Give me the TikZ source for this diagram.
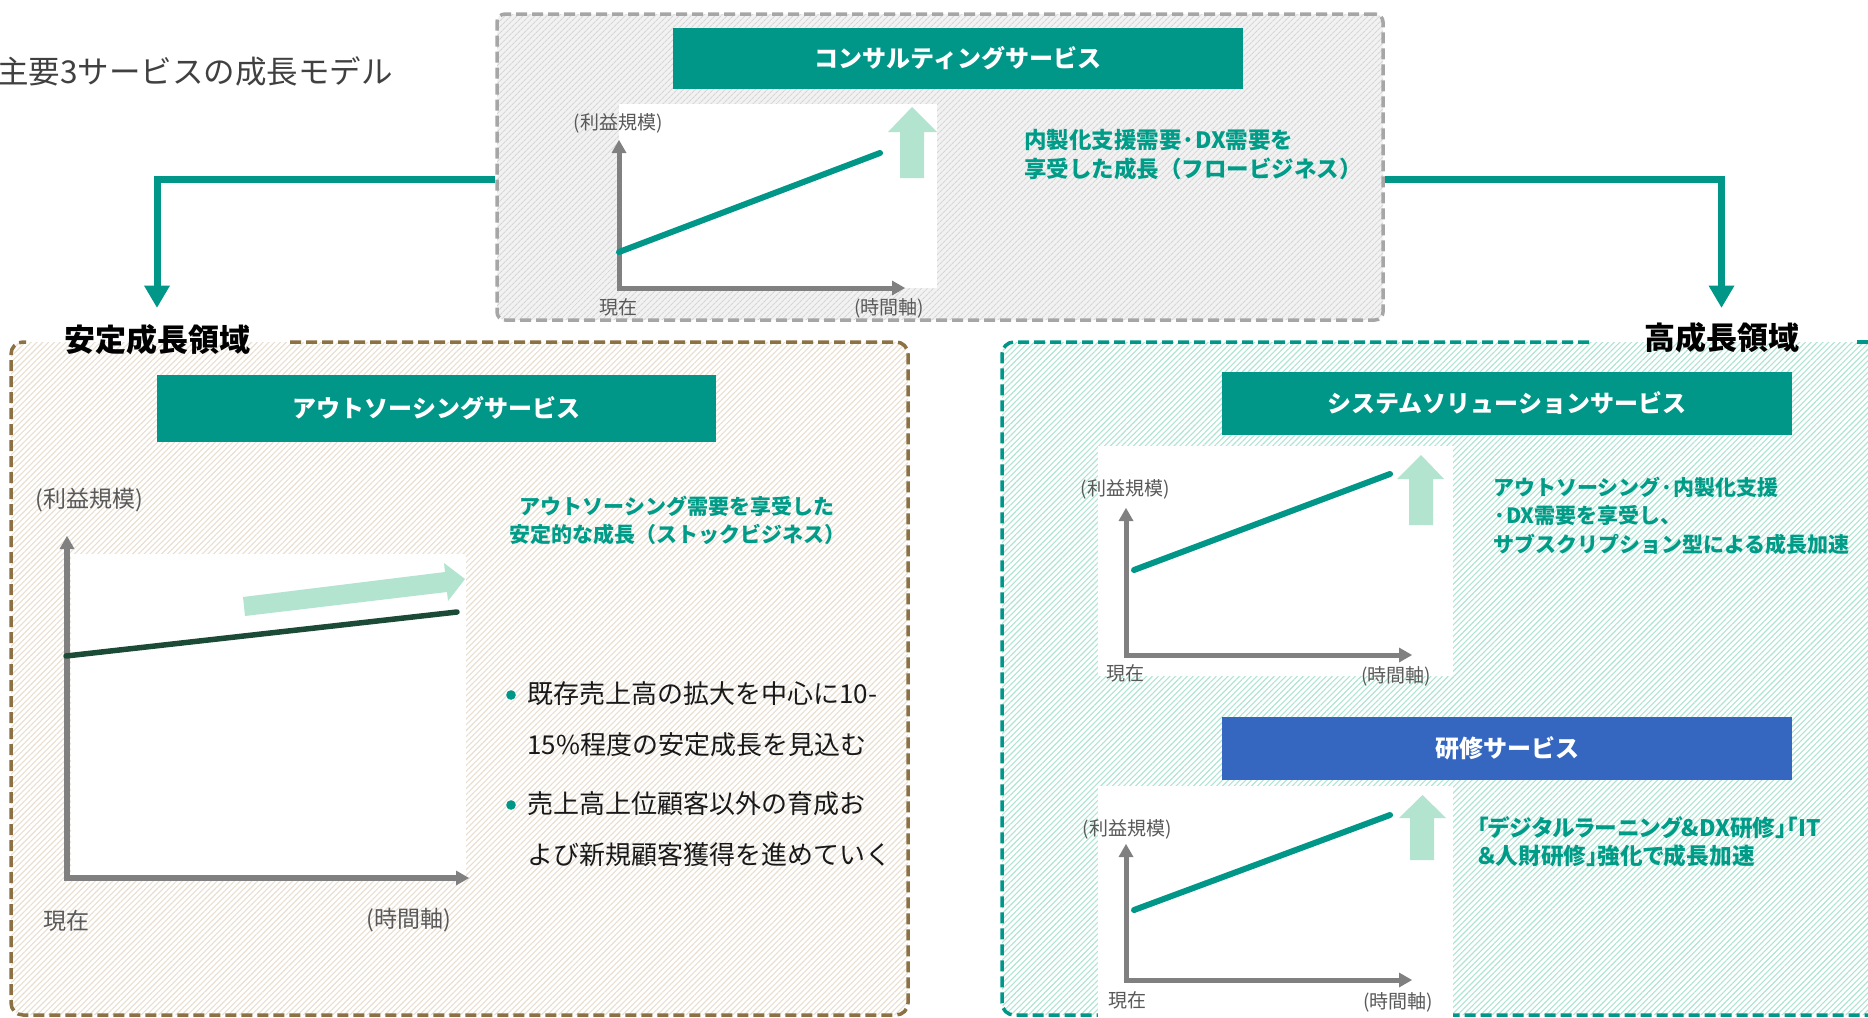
\documentclass[tikz,border=0pt]{standalone}
\usepackage{fontspec}
\setmainfont{Noto Sans CJK JP}
\newfontfamily\paltfont{Noto Sans CJK JP}[RawFeature=+palt]
\usetikzlibrary{arrows.meta,patterns.meta,calc}
\definecolor{tealc}{HTML}{009688}
\definecolor{desct}{HTML}{009C88}
\definecolor{lightg}{HTML}{B2E4D0}
\definecolor{bluec}{HTML}{3567C1}
\definecolor{darkline}{HTML}{1B4A37}
\definecolor{axisg}{HTML}{808080}
\definecolor{labg}{HTML}{595959}
\definecolor{brownb}{HTML}{8B7143}
\definecolor{beigeh}{HTML}{E8DFD0}
\definecolor{tealh}{HTML}{AEE4D2}
\definecolor{grayb}{HTML}{A6A6A6}
\definecolor{graybg}{HTML}{F2F2F2}
\definecolor{grayh}{HTML}{D6D6D6}
\definecolor{titleg}{HTML}{404040}
\newcommand\fsz[2]{\fontsize{#1}{#2}\selectfont}
\begin{document}
\begin{tikzpicture}[x=1pt,y=-1pt,
  consbox/.style={draw=grayb, line width=3.5pt, dash pattern=on 11pt off 5pt,
    rounded corners=8pt, minimum width=886pt, minimum height=306pt, inner sep=0pt,
    preaction={fill=graybg},
    preaction={pattern={Lines[angle=45,distance=4pt,line width=1.1pt]}, pattern color=grayh}},
  titlebar/.style={fill=tealc, text=white, font=\bfseries\fsz{24}{28}, minimum width=570pt, minimum height=61pt, inner sep=0pt},
  regionlabel/.style={text=black, font=\bfseries\fsz{31}{34}, inner sep=0pt},
  axis/.style={draw=axisg, line width=5pt, line join=miter,
    {Triangle[width=15pt,length=13pt,line width=0pt]}-{Triangle[width=15pt,length=13pt,line width=0pt]}},
  growth/.style={draw=tealc, line width=6pt, line cap=round},
  axlab/.style={text=labg, font=\fsz{19}{22}, inner sep=0pt},
  axlabbig/.style={text=labg, font=\fsz{23}{26}, inner sep=0pt},
  desc/.style={text=desct, font=\bfseries\fsz{21}{28.5}, align=left, inner sep=0pt, anchor=north west},
  bullettext/.style={text=black!90, font=\fsz{26}{51}, align=left, inner sep=0pt, anchor=north west},
  conn/.style={draw=tealc, line width=7pt, -{Triangle[width=26pt,length=22pt,line width=0pt]}},
  hatchline/.style={pattern={Lines[angle=45,distance=4.1pt,line width=1.1pt]}}
]
\useasboundingbox (0,0) rectangle (1868,1017);
\fill[white] (0,0) rectangle (1868,1017);

% ---------- main title ----------
\node[anchor=east, text=titleg, font=\fsz{31.5}{34}, inner sep=0pt] (maintitle) at (393,71) {主要3サービスの成長モデル};

% ---------- left region (stable growth) ----------
\fill[hatchline, pattern color=beigeh, rounded corners=12pt] (11,342) rectangle (908,1015);
\draw[draw=brownb, line width=3.5pt, dash pattern=on 11pt off 5pt, rounded corners=12pt]
  (290,342) -- (908,342) -- (908,1015) -- (11,1015) -- (11,342) -- (26,342);
\node[regionlabel] (stable) at (157,340) {安定成長領域};

% ---------- right region (high growth) ----------
\fill[hatchline, pattern color=tealh, rounded corners=12pt] (1002,342) rectangle (1890,1015);
\draw[draw=tealc, line width=3.5pt, dash pattern=on 11pt off 5pt, rounded corners=12pt]
  (1589,342) -- (1002,342) -- (1002,1015) -- (1890,1015);
\draw[draw=tealc, line width=3.5pt, dash pattern=on 11pt off 5pt] (1857,342) -- (1890,342);
\node[regionlabel] (high) at (1721.5,338) {高成長領域};

% ---------- consulting box ----------
\node[consbox] (cons) at (940,167) {};
\node[titlebar] (constitle) at (958,58.5) {コンサルティングサービス};
\fill[white] (619,104) rectangle (937,288);
\draw[axis] (619,140) -- (619,288) -- (905,288);
\draw[growth] (619,252) -- (880,153);
\fill[lightg] (900,178) -- (900,132) -- (888,132) -- (912,107) -- (937,132) -- (924,132) -- (924,178) -- cycle;
\node[axlab] (cy) at (618,123) {(利益規模)};
\node[axlab] (cx0) at (618,307) {現在};
\node[axlab] (cx1) at (889,308) {(時間軸)};
\node[desc, font=\bfseries\fsz{22.5}{28.5}] (consdesc) at (1024,129.5) {内製化支援需要·DX需要を\\享受した成長（フロービジネス）};

% ---------- connectors ----------
\draw[conn, shorten >=17pt] ($(cons.west)+(0,12)$) -| (stable.north);
\draw[conn, shorten >=15pt] ($(cons.east)+(0,12)$) -| (high.north);

% ---------- outsourcing ----------
\node[titlebar, minimum width=559pt, minimum height=67pt] (outtitle) at (436.5,408.5) {アウトソーシングサービス};
\fill[white] (71,554) rectangle (466,880);
\draw[axis, line width=6pt] (67,536) -- (67,878) -- (469,878);
\fill[lightg] (243,597) -- (445,572) -- (444,563) -- (465,579) -- (448,601) -- (447,592) -- (245,616) -- cycle;
\draw[draw=darkline, line width=5.5pt, line cap=round] (66,656) -- (457,612);
\node[axlabbig] (oy) at (89,500) {(利益規模)};
\node[axlabbig] (ox0) at (66,921) {現在};
\node[axlabbig] (ox1) at (409,920) {(時間軸)};
\node[desc, align=center, anchor=north] (outdesc) at (677,495.5) {アウトソーシング需要を享受した\\安定的な成長（ストックビジネス）};
\fill[tealc] (511,695) circle (4.8);
\fill[tealc] (511,805) circle (4.8);
\node[bullettext] (b1) at (527,681.5) {既存売上高の拡大を中心に10-\\15\%程度の安定成長を見込む};
\node[bullettext] (b2) at (527,791.5) {売上高上位顧客以外の育成お\\よび新規顧客獲得を進めていく};

% ---------- system solution ----------
\node[titlebar, minimum height=63pt] (systitle) at (1507,403.5) {システムソリューションサービス};
\fill[white] (1098,446) rectangle (1453,676);
\draw[axis] (1126,508) -- (1126,655) -- (1412,655);
\draw[growth] (1134,570) -- (1390,474);
\fill[lightg] (1409,525) -- (1409,479) -- (1397,479) -- (1421,455) -- (1444,479) -- (1433,479) -- (1433,525) -- cycle;
\node[axlab] (sy) at (1125,489) {(利益規模)};
\node[axlab] (sx0) at (1125,673) {現在};
\node[axlab] (sx1) at (1396,676) {(時間軸)};
\node[desc] (sysdesc) at (1493,476.5) {アウトソーシング·内製化支援\\·DX需要を享受し、\\サブスクリプション型による成長加速};

% ---------- training ----------
\node[titlebar, fill=bluec, minimum height=63pt] (trtitle) at (1507,748.5) {研修サービス};
\fill[white] (1098,786) rectangle (1453,1017);
\draw[axis] (1126,844) -- (1126,980) -- (1412,980);
\draw[growth] (1134,910) -- (1390,815);
\fill[lightg] (1410,860) -- (1410,818) -- (1399,818) -- (1422.5,795) -- (1446,818) -- (1434,818) -- (1434,860) -- cycle;
\node[axlab] (ty) at (1127,829) {(利益規模)};
\node[axlab] (tx0) at (1127,1000) {現在};
\node[axlab] (tx1) at (1398,1002) {(時間軸)};
\node[desc, font=\paltfont\bfseries\fsz{22.7}{28}] (trdesc) at (1477,816) {「デジタルラーニング\&DX研修」「IT\\＆人財研修」強化で成長加速};
\end{tikzpicture}
\end{document}
